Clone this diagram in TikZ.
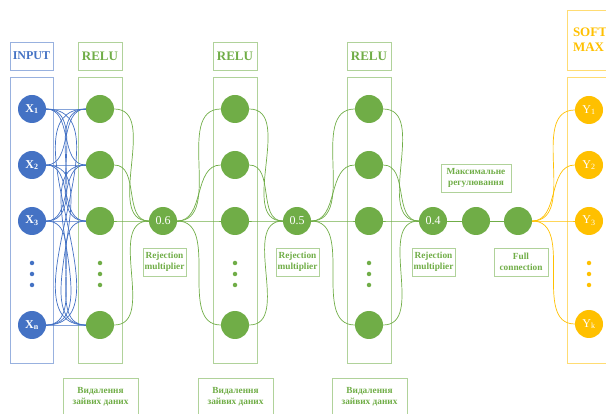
\documentclass[tikz,border=0pt]{standalone}
\usepackage{fontspec}
\setmainfont{Liberation Serif}
\usetikzlibrary{positioning}
\definecolor{nnblue}{HTML}{4472C4}
\definecolor{nngreen}{HTML}{70AD47}
\definecolor{nnyellow}{HTML}{FFC000}
\tikzset{
  colbox/.style={draw,line width=.9pt,minimum width=44pt,minimum height=286pt,inner sep=0pt},
  headbox/.style={draw,line width=.9pt,minimum width=44pt,minimum height=28pt,inner sep=0pt,font=\fontsize{13}{15}\selectfont\bfseries},
  unit/.style={circle,fill,minimum size=28pt,inner sep=0pt,text=white,font=\fontsize{12}{13}\selectfont},
  dotpt/.style={circle,fill,minimum size=4.5pt,inner sep=0pt},
  notebox/.style={draw=nngreen!55,line width=.9pt,text=nngreen,align=center,inner sep=0pt,minimum height=28pt,font=\fontsize{9.3}{11}\selectfont\bfseries},
  link/.style={out=0,in=180,line width=.7pt}
}

\begin{document}
\begin{tikzpicture}[x=1pt,y=-1pt]
\useasboundingbox (0,0) rectangle (606,414);
% columns and their headers
\node[colbox,draw=nnblue!55,minimum width=43pt] (colin) at (31.5,220) {};
\node[headbox,draw=nnblue!55,text=nnblue,minimum width=43pt,font=\fontsize{12}{14}\selectfont\bfseries,above=6pt of colin] (headin) {INPUT};
\node[colbox,draw=nngreen!55] (cola) at (100,220) {};
\node[headbox,draw=nngreen!55,text=nngreen,above=6pt of cola] (heada) {RELU};
\node[colbox,draw=nngreen!55] (colb) at (235,220) {};
\node[headbox,draw=nngreen!55,text=nngreen,above=6pt of colb] (headb) {RELU};
\node[colbox,draw=nngreen!55] (colc) at (369,220) {};
\node[headbox,draw=nngreen!55,text=nngreen,above=6pt of colc] (headc) {RELU};
\node[colbox,draw=nnyellow!55,minimum width=52pt] (coly) at (593,220) {};
\node[headbox,draw=nnyellow!55,text=nnyellow,minimum width=52pt,minimum height=60pt,align=left,text width=40pt,above=6pt of coly] (heady) {SOFT\\MAX};

% input units
\node[unit,fill=nnblue,font=\fontsize{12}{13}\selectfont\bfseries] (x1) at (32,109) {X\textsubscript{1}};
\node[unit,fill=nnblue,font=\fontsize{12}{13}\selectfont\bfseries] (x2) at (32,165) {X\textsubscript{2}};
\node[unit,fill=nnblue,font=\fontsize{12}{13}\selectfont\bfseries] (x3) at (32,221) {X\textsubscript{3}};
\node[unit,fill=nnblue,font=\fontsize{12}{13}\selectfont\bfseries] (xn) at (32,325) {X\textsubscript{n}};
\node[dotpt,fill=nnblue] (xd1) at (32,263) {}; \node[dotpt,fill=nnblue] (xd2) at (32,274) {}; \node[dotpt,fill=nnblue] (xd3) at (32,285) {};

% relu units
\node[unit,fill=nngreen] (a1) at (100,109) {}; \node[unit,fill=nngreen] (a2) at (100,165) {};
\node[unit,fill=nngreen] (a3) at (100,221) {}; \node[unit,fill=nngreen] (a4) at (100,325) {};
\node[dotpt,fill=nngreen] (ad1) at (100,263) {}; \node[dotpt,fill=nngreen] (ad2) at (100,274) {}; \node[dotpt,fill=nngreen] (ad3) at (100,285) {};
\node[unit,fill=nngreen] (b1) at (235,109) {}; \node[unit,fill=nngreen] (b2) at (235,165) {};
\node[unit,fill=nngreen] (b3) at (235,221) {}; \node[unit,fill=nngreen] (b4) at (235,325) {};
\node[dotpt,fill=nngreen] (bd1) at (235,263) {}; \node[dotpt,fill=nngreen] (bd2) at (235,274) {}; \node[dotpt,fill=nngreen] (bd3) at (235,285) {};
\node[unit,fill=nngreen] (c1) at (369,109) {}; \node[unit,fill=nngreen] (c2) at (369,165) {};
\node[unit,fill=nngreen] (c3) at (369,221) {}; \node[unit,fill=nngreen] (c4) at (369,325) {};
\node[dotpt,fill=nngreen] (cd1) at (369,263) {}; \node[dotpt,fill=nngreen] (cd2) at (369,274) {}; \node[dotpt,fill=nngreen] (cd3) at (369,285) {};

% dropout and dense units
\node[unit,fill=nngreen] (d1) at (163,221) {0.6};
\node[unit,fill=nngreen] (d2) at (297,221) {0.5};
\node[unit,fill=nngreen] (d3) at (433,221) {0.4};
\node[unit,fill=nngreen] (m1) at (476,221) {};
\node[unit,fill=nngreen] (m2) at (518,221) {};

% softmax units
\node[unit,fill=nnyellow] (y1) at (589,110) {Y\textsubscript{1}};
\node[unit,fill=nnyellow] (y2) at (589,165) {Y\textsubscript{2}};
\node[unit,fill=nnyellow] (y3) at (589,221) {Y\textsubscript{3}};
\node[unit,fill=nnyellow] (yk) at (589,324) {Y\textsubscript{k}};
\node[dotpt,fill=nnyellow] (yd1) at (589,263) {}; \node[dotpt,fill=nnyellow] (yd2) at (589,274) {}; \node[dotpt,fill=nnyellow] (yd3) at (589,285) {};

% notes
\node[notebox,minimum width=43pt] (rej1) at (164.5,262) {Rejection\\multiplier};
\node[notebox,minimum width=43pt] (rej2) at (297.5,262) {Rejection\\multiplier};
\node[notebox,minimum width=43pt] (rej3) at (433.5,262) {Rejection\\multiplier};
\node[notebox,minimum width=54pt] (full) at (521,262) {Full\\connection};
\node[notebox,minimum width=70pt] (maxreg) at (476,178) {Максимальне\\регулювання};
\node[notebox,minimum width=75pt,minimum height=38pt] (del1) at (100.5,397) {Видалення\\зайвих даних};
\node[notebox,minimum width=75pt,minimum height=38pt] (del2) at (235.5,397) {Видалення\\зайвих даних};
\node[notebox,minimum width=75pt,minimum height=38pt] (del3) at (369.5,397) {Видалення\\зайвих даних};

% input -> relu, fully connected
\draw[link,nnblue] (x1.east) to (a1.west); \draw[link,nnblue] (x1.east) to (a2.west); \draw[link,nnblue] (x1.east) to (a3.west); \draw[link,nnblue] (x1.east) to (a4.west);
\draw[link,nnblue] (x2.east) to (a1.west); \draw[link,nnblue] (x2.east) to (a2.west); \draw[link,nnblue] (x2.east) to (a3.west); \draw[link,nnblue] (x2.east) to (a4.west);
\draw[link,nnblue] (x3.east) to (a1.west); \draw[link,nnblue] (x3.east) to (a2.west); \draw[link,nnblue] (x3.east) to (a3.west); \draw[link,nnblue] (x3.east) to (a4.west);
\draw[link,nnblue] (xn.east) to (a1.west); \draw[link,nnblue] (xn.east) to (a2.west); \draw[link,nnblue] (xn.east) to (a3.west); \draw[link,nnblue] (xn.east) to (a4.west);

% relu -> dropout -> relu
\draw[link,nngreen] (a1.east) to (d1.west); \draw[link,nngreen] (a2.east) to (d1.west); \draw[link,nngreen] (a3.east) to (d1.west); \draw[link,nngreen] (a4.east) to (d1.west);
\draw[link,nngreen] (d1.east) to (b1.west); \draw[link,nngreen] (d1.east) to (b2.west); \draw[link,nngreen] (d1.east) to (b3.west); \draw[link,nngreen] (d1.east) to (b4.west);
\draw[link,nngreen] (b1.east) to (d2.west); \draw[link,nngreen] (b2.east) to (d2.west); \draw[link,nngreen] (b3.east) to (d2.west); \draw[link,nngreen] (b4.east) to (d2.west);
\draw[link,nngreen] (d2.east) to (c1.west); \draw[link,nngreen] (d2.east) to (c2.west); \draw[link,nngreen] (d2.east) to (c3.west); \draw[link,nngreen] (d2.east) to (c4.west);
\draw[link,nngreen] (c1.east) to (d3.west); \draw[link,nngreen] (c2.east) to (d3.west); \draw[link,nngreen] (c3.east) to (d3.west); \draw[link,nngreen] (c4.east) to (d3.west);
\draw[link,nngreen] (d3) -- (m1); \draw[link,nngreen] (m1) -- (m2);

% dense -> softmax
\draw[link,nnyellow] (m2.east) to (y1.west); \draw[link,nnyellow] (m2.east) to (y2.west); \draw[link,nnyellow] (m2.east) to (y3.west); \draw[link,nnyellow] (m2.east) to (yk.west);
\end{tikzpicture}
\end{document}
